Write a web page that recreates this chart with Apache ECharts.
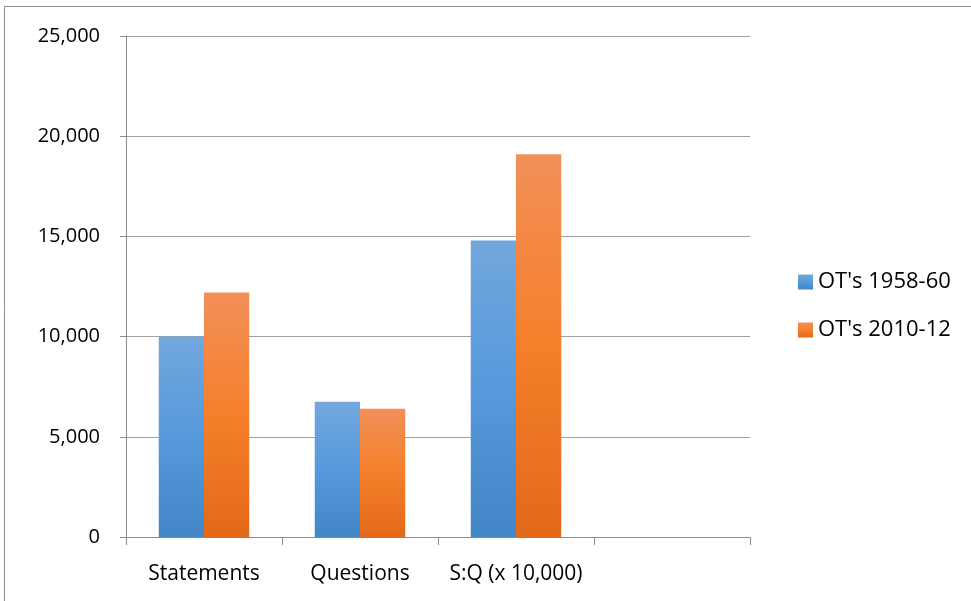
<!DOCTYPE html>
<html><head><meta charset="utf-8">
<script src="https://cdn.jsdelivr.net/npm/echarts@6/dist/echarts.min.js"></script>
<style>html,body{margin:0;padding:0;background:#fff}#c{width:971px;height:601px}</style>
</head><body><div id="c"></div>
<script>
const categories = ['Statements', 'Questions', 'S:Q (x 10,000)', ''];
const series1958 = [10000, 6750, 14800, null];
const series2010 = [12200, 6400, 19100, null];
const yTicks = [0, 5000, 10000, 15000, 20000, 25000];

const chart = echarts.init(document.getElementById('c'));
const font = 'Open Sans';
function grad(top, mid, bot) {
  return new echarts.graphic.LinearGradient(0, 0, 0, 1, [
    {offset: 0, color: top}, {offset: 0.5, color: mid}, {offset: 1, color: bot}]);
}
chart.setOption({
  animation: false,
  graphic: [{type: 'rect', shape: {x: 4.5, y: 6.5, width: 1000, height: 700},
    style: {fill: 'none', stroke: '#8c8c8c', lineWidth: 1}}],
  grid: {left: 126, right: 221, top: 36, bottom: 64},
  legend: {
    orient: 'vertical', left: 793, top: 266, itemGap: 26,
    itemWidth: 15, itemHeight: 15, icon: 'rect',
    textStyle: {fontFamily: font, fontSize: 22, color: '#000'},
    data: ["OT's 1958-60", "OT's 2010-12"]
  },
  xAxis: {
    type: 'category', data: categories,
    axisLine: {lineStyle: {color: '#8c8c8c', width: 1}},
    axisTick: {show: true, length: 8, interval: 0, lineStyle: {color: '#8c8c8c'}},
    axisLabel: {fontFamily: font, fontSize: 21, color: '#000', margin: 27,
      interval: 0, hideOverlap: false}
  },
  yAxis: {
    type: 'value', min: 0, max: 25000, interval: 5000,
    axisLine: {show: true, lineStyle: {color: '#8c8c8c'}},
    axisTick: {show: true, length: 6, lineStyle: {color: '#8c8c8c'}},
    splitLine: {lineStyle: {color: '#a0a0a0', width: 1}},
    axisLabel: {fontFamily: font, fontSize: 20, color: '#000', margin: 26,
      formatter: v => yTicks.includes(v) ? v.toLocaleString('en-US') : ''}
  },
  series: [
    {name: "OT's 1958-60", type: 'bar', data: series1958, barGap: '0%', barCategoryGap: '42%',
      itemStyle: {color: grad('#72a7dc', '#5699dc', '#4286c7')}},
    {name: "OT's 2010-12", type: 'bar', data: series2010,
      itemStyle: {color: grad('#f29059', '#f57f2a', '#e2691a')}}
  ]
});
</script></body></html>
